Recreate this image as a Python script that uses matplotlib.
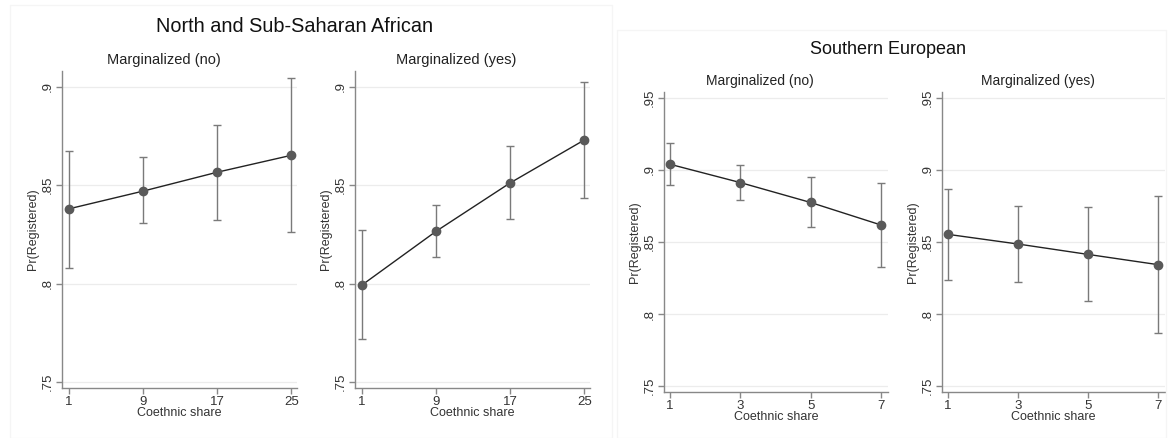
import matplotlib
matplotlib.use("Agg")
import matplotlib.pyplot as plt
from matplotlib.patches import Rectangle

plt.rcParams['font.family'] = ['Liberation Sans', 'DejaVu Sans']

# North and Sub-Saharan African
nsa_x = [1, 9, 17, 25]
nsa_no = [0.838, 0.847, 0.8566, 0.8652]
nsa_no_lo = [0.808, 0.831, 0.8325, 0.8261]
nsa_no_hi = [0.8675, 0.8643, 0.8805, 0.9044]
nsa_yes = [0.7993, 0.8266, 0.8512, 0.873]
nsa_yes_lo = [0.7717, 0.8135, 0.8327, 0.8434]
nsa_yes_hi = [0.8273, 0.8397, 0.8698, 0.9025]

# Southern European
se_x = [1, 3, 5, 7]
se_no = [0.9039, 0.8912, 0.8774, 0.8618]
se_no_lo = [0.8892, 0.879, 0.8602, 0.8327]
se_no_hi = [0.9187, 0.9035, 0.895, 0.8912]
se_yes = [0.8553, 0.8486, 0.8414, 0.8343]
se_yes_lo = [0.8237, 0.8223, 0.8089, 0.7866]
se_yes_hi = [0.8868, 0.8749, 0.874, 0.8816]

nsa_yticks = [0.75, 0.8, 0.85, 0.9]
nsa_ylabels = ['.75', '.8', '.85', '.9']
se_yticks = [0.75, 0.8, 0.85, 0.9, 0.95]
se_ylabels = ['.75', '.8', '.85', '.9', '.95']

W, H = 1168, 438
fig = plt.figure(figsize=(W / 100, H / 100), dpi=100)


def px_axes(left, top, right, bottom):
    return fig.add_axes([left / W, 1 - bottom / H, (right - left) / W, (bottom - top) / H])


def panel(ax, x, y, lo, hi, xlim, ylim, yticks, ylabels, title, tsize):
    for t in yticks:
        ax.axhline(t, color='#ececec', lw=0.9, zorder=0)
    err = [[v - l for v, l in zip(y, lo)], [h - v for v, h in zip(y, hi)]]
    ax.errorbar(x, y, yerr=err, fmt='none', ecolor='#7a7a7a', elinewidth=1.0,
                capsize=3, capthick=1.0, zorder=2)
    ax.plot(x, y, color='#222222', lw=1.0, zorder=3)
    ax.plot(x, y, 'o', color='#595959', ms=6, zorder=4)
    ax.set_xlim(xlim)
    ax.set_ylim(ylim)
    ax.set_xticks(x)
    ax.set_xticklabels([str(v) for v in x], fontsize=9.5)
    ax.set_yticks(yticks)
    ax.set_yticklabels(ylabels, fontsize=9.5, rotation=90, va='center')
    for s in ['top', 'right']:
        ax.spines[s].set_visible(False)
    for s in ['left', 'bottom']:
        ax.spines[s].set_color('#888888')
        ax.spines[s].set_linewidth(1.0)
    ax.tick_params(colors='#888888', length=4, width=1, labelcolor='#333333', pad=2)
    ax.set_xlabel('Coethnic share', fontsize=9, color='#333333', labelpad=-1)
    ax.set_ylabel('Pr(Registered)', fontsize=9, color='#333333', labelpad=2)
    # Stata centres the subtitle over the whole graph region, a bit left of the plot area
    bb = ax.get_position()
    fig.text(bb.x0 + bb.width / 2 - 16 / W, bb.y1 + 11 / H, title, fontsize=tsize,
             ha='center', va='center', color='#222222')


# faint frames of the two pasted images
fig.patches.append(Rectangle((10 / W, 0), 602 / W, 433 / H, transform=fig.transFigure,
                             fill=False, ec='#f5f5f5', lw=1))
fig.patches.append(Rectangle((617 / W, 0), 549 / W, 408 / H, transform=fig.transFigure,
                             fill=False, ec='#f5f5f5', lw=1))

ax1 = px_axes(62, 71, 297, 388)
panel(ax1, nsa_x, nsa_no, nsa_no_lo, nsa_no_hi, (0.25, 25.6), (0.747, 0.908),
      nsa_yticks, nsa_ylabels, 'Marginalized (no)', 10.5)
ax2 = px_axes(355, 71, 590, 388)
panel(ax2, nsa_x, nsa_yes, nsa_yes_lo, nsa_yes_hi, (0.25, 25.6), (0.747, 0.908),
      nsa_yticks, nsa_ylabels, 'Marginalized (yes)', 10.5)
ax3 = px_axes(664, 92, 888, 392)
panel(ax3, se_x, se_no, se_no_lo, se_no_hi, (0.83, 7.2), (0.746, 0.954),
      se_yticks, se_ylabels, 'Marginalized (no)', 10)
ax4 = px_axes(942, 92, 1165, 392)
panel(ax4, se_x, se_yes, se_yes_lo, se_yes_hi, (0.83, 7.2), (0.746, 0.954),
      se_yticks, se_ylabels, 'Marginalized (yes)', 10)

fig.text(295 / W, 1 - 26 / H, 'North and Sub-Saharan African', fontsize=14.3,
         ha='center', va='center', color='#111111')
fig.text(888 / W, 1 - 49 / H, 'Southern European', fontsize=13,
         ha='center', va='center', color='#111111')

fig.savefig('out.png', dpi=100, facecolor='white')
